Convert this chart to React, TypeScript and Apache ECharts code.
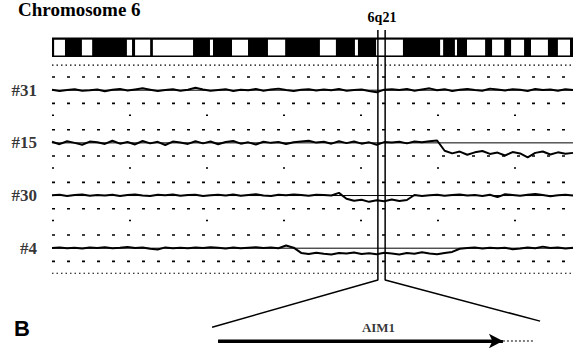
import React, { useEffect, useRef } from "react";
import * as echarts from "echarts";

// Chromosome 6 positions (Mb) of the array probes
const POS = [
  0, 2.5, 5, 7.5, 10, 12.5, 15, 17.5, 20, 22.5,
  25, 27.5, 30, 32.5, 35, 37.5, 40, 42.5, 45, 47.5,
  50, 52.5, 55, 57.5, 60, 62.5, 65, 67.5, 70, 72.5,
  75, 77.5, 80, 82.5, 85, 87.5, 90, 92.5, 95, 97.5,
  100, 102.5, 105, 107.5, 110, 112.5, 115, 117.5, 120, 122.5,
  125, 127.5, 130, 132.5, 135, 137.5, 140, 142.5, 145, 147.5,
  150, 152.5, 155, 157.5, 160, 162.5, 165, 167.5, 170, 172.5,
];

const TRACK_NAMES = ["#31", "#15", "#30", "#4"];

// log2 ratios per sample
const T31 = [
  0.02, -0.03, 0.01, 0.04, -0.02, 0.0, 0.03, -0.04, 0.02, 0.05,
  -0.01, 0.03, 0.07, 0.02, -0.03, 0.01, 0.04, -0.02, 0.02, 0.09,
  0.03, -0.02, 0.01, 0.04, -0.03, 0.02, 0.0, 0.05, -0.02, 0.03,
  0.06, 0.01, -0.03, 0.02, 0.04, -0.01, 0.03, 0.0, 0.05, -0.02,
  0.01, 0.03, -0.03, -0.08, 0.02, 0.04, 0.01, 0.05, -0.02, 0.03,
  0.07, 0.0, 0.04, -0.03, 0.02, 0.05, 0.01, -0.02, 0.06, 0.03,
  -0.01, 0.04, 0.02, -0.03, 0.05, 0.01, 0.03, -0.02, 0.04, 0.01,
];
const T15 = [
  0.04, -0.05, 0.06, 0.0, -0.07, 0.05, 0.02, -0.04, 0.08, -0.03,
  0.03, -0.06, 0.07, -0.02, 0.04, -0.08, 0.05, 0.01, -0.04, 0.06,
  -0.02, 0.05, -0.05, 0.03, 0.07, -0.03, 0.02, -0.06, 0.04, 0.0,
  0.03, -0.04, 0.02, 0.05, 0.08, 0.01, 0.04, -0.03, 0.06, -0.01,
  0.05, -0.03, 0.02, -0.07, 0.03, 0.01, 0.04, -0.02, 0.05, 0.02,
  0.06, 0.09, -0.3, -0.4, -0.33, -0.45, -0.36, -0.31, -0.42, -0.37,
  -0.48, -0.35, -0.4, -0.55, -0.38, -0.33, -0.44, -0.36, -0.41, -0.38,
];
const T30 = [
  0.01, 0.03, -0.02, 0.02, 0.04, -0.01, 0.02, 0.0, 0.03, -0.02,
  0.02, 0.04, 0.0, -0.02, 0.03, 0.01, 0.04, -0.01, 0.02, 0.03,
  -0.02, 0.01, 0.03, 0.0, 0.04, -0.01, 0.02, 0.05, 0.0, -0.02,
  0.03, 0.01, 0.04, 0.02, -0.01, 0.03, 0.02, 0.0, 0.1, -0.12,
  -0.2, -0.16, -0.24, -0.18, -0.22, -0.15, -0.21, -0.17, 0.02, -0.02,
  0.01, 0.03, -0.01, 0.02, 0.04, 0.0, 0.02, -0.02, 0.03, -0.06,
  0.05, 0.02, -0.01, 0.03, 0.06, 0.02, -0.03, 0.01, 0.03, 0.0,
];
const T4 = [
  0.01, 0.03, 0.0, 0.02, -0.01, 0.03, 0.01, 0.04, 0.0, 0.02,
  0.05, 0.01, 0.03, -0.02, -0.05, 0.03, 0.0, 0.02, 0.0, 0.03,
  0.01, 0.04, 0.02, -0.01, 0.03, 0.0, 0.02, 0.04, 0.01, 0.03,
  0.0, 0.1, 0.02, -0.18, -0.22, -0.17, -0.21, -0.24, -0.18, -0.2,
  -0.16, -0.22, -0.19, -0.23, -0.17, -0.2, -0.24, -0.18, -0.21, -0.15,
  -0.2, -0.23, -0.18, -0.14, -0.02, 0.01, 0.03, -0.01, 0.02, 0.0,
  0.02, -0.04, -0.01, 0.03, 0.0, 0.06, 0.01, 0.03, -0.01, 0.02,
];
const TRACKS = [T31, T15, T30, T4];

// dotted guide levels (log2)
const GUIDE_LEVELS = [0.5, -0.5];
const OUTER_LEVEL = 0.95;

// ideogram
const CHROM_LENGTH = 172.5;
const LIGHT_BANDS = [
  [0.7, 4.3], [9.9, 13.3], [24.8, 26.5], [27.5, 32.5], [33.4, 46.7],
  [52.3, 53.3], [59.6, 64.9], [71.5, 77.2], [88.7, 94.0], [100.3, 101.3],
  [107.3, 116.2], [128.5, 129.5], [133.4, 134.1], [137.4, 143.4], [145.7, 149.7],
  [152.0, 156.3], [158.6, 164.2], [167.5, 171.5],
];

const LOCUS_NAME = "6q21";
const LOCUS = [107.9, 110.3];
const ZOOM_ENDS = [53.0, 161.6];
const GENE_NAME = "AIM1";
const GENE_SPAN = [55.0, 149.3];
const GENE_TAIL = 159.9;

// vertical layout in track units (1 unit per sample row)
const SCALE = 0.5;
const IDEO_TOP = 0;
const IDEO_BOTTOM = 0.37;
const LIGHT_TOP = 0.04;
const LIGHT_BOTTOM = 0.34;
const LOCUS_TOP = -0.143;
const LOCUS_BOTTOM = 4.604;
const ZOOM_LEFT_V = 5.5;
const ZOOM_RIGHT_V = 5.385;
const ARROW_V = 5.762;
const GENE_LABEL_V = 5.505;

const SERIF = "Liberation Serif";

const rowV = (track: number, log2: number) => track - log2 * SCALE;

function buildOption() {
  const series: any[] = [];
  const black = "#000";

  // ideogram
  const ideoData: any[] = [[0, CHROM_LENGTH, 1]].concat(
    LIGHT_BANDS.map((b) => [b[0], b[1], 0])
  );
  series.push({
    type: "custom",
    data: ideoData,
    encode: { x: [0, 1] },
    z: 1,
    silent: true,
    renderItem: (params: any, api: any) => {
      const dark = api.value(2) === 1;
      const p0 = api.coord([api.value(0), dark ? IDEO_TOP : LIGHT_TOP]);
      const p1 = api.coord([api.value(1), dark ? IDEO_BOTTOM : LIGHT_BOTTOM]);
      return {
        type: "rect",
        shape: { x: p0[0], y: p0[1], width: p1[0] - p0[0], height: p1[1] - p0[1] },
        style: { fill: dark ? black : "#fff" },
      };
    },
  });

  TRACKS.forEach((vals, i) => {
    const t = i + 1;
    GUIDE_LEVELS.forEach((lv) => {
      series.push({
        type: "line",
        data: [[0, rowV(t, lv)], [CHROM_LENGTH, rowV(t, lv)]],
        symbol: "none",
        silent: true,
        lineStyle: { color: black, width: 1.6, type: [3, 12] },
        z: 2,
      });
    });
    const lowerDense = i === TRACKS.length - 1;
    series.push({
      type: "line",
      data: [[0, rowV(t, -OUTER_LEVEL)], [CHROM_LENGTH, rowV(t, -OUTER_LEVEL)]],
      symbol: "none",
      silent: true,
      lineStyle: lowerDense
        ? { color: black, width: 1.1, type: [1.5, 3] }
        : { color: black, width: 1.5, type: [2, 75] },
      z: 2,
    });
    if (i === 0) {
      series.push({
        type: "line",
        data: [[0, rowV(t, OUTER_LEVEL)], [CHROM_LENGTH, rowV(t, OUTER_LEVEL)]],
        symbol: "none",
        silent: true,
        lineStyle: { color: black, width: 1.2, type: [1.5, 3] },
        z: 2,
      });
    }
    series.push({
      type: "line",
      data: [[0, rowV(t, 0)], [CHROM_LENGTH, rowV(t, 0)]],
      symbol: "none",
      silent: true,
      lineStyle: { color: black, width: 1 },
      z: 3,
    });
    series.push({
      type: "line",
      data: POS.map((x, j) => [x, rowV(t, vals[j])]),
      symbol: "none",
      silent: true,
      lineStyle: { color: black, width: 2 },
      z: 4,
    });
  });

  series.push({
    type: "scatter",
    clip: false,
    symbolSize: 0,
    silent: true,
    data: TRACK_NAMES.map((n, i) => ({ value: [0, i + 1], name: n })),
    label: {
      show: true,
      position: "left",
      distance: 15,
      formatter: "{b}",
      color: black,
      fontFamily: SERIF,
      fontWeight: "bold",
      fontSize: 17,
    },
    z: 6,
  });

  LOCUS.forEach((x, k) => {
    series.push({
      type: "line",
      data: [
        [x, LOCUS_TOP],
        [x, LOCUS_BOTTOM],
        [ZOOM_ENDS[k], k === 0 ? ZOOM_LEFT_V : ZOOM_RIGHT_V],
      ],
      symbol: "none",
      silent: true,
      lineStyle: { color: black, width: 1.5 },
      z: 7,
    });
  });

  series.push({
    type: "line",
    data: [[GENE_SPAN[0], ARROW_V], [GENE_SPAN[1] - 2, ARROW_V]],
    symbol: "none",
    silent: true,
    lineStyle: { color: black, width: 3 },
    z: 7,
    markLine: {
      silent: true,
      symbol: ["none", "arrow"],
      symbolSize: [11, 14],
      label: { show: false },
      lineStyle: { color: black, width: 3, type: "solid" },
      data: [[{ coord: [GENE_SPAN[0], ARROW_V] }, { coord: [GENE_SPAN[1], ARROW_V] }]],
    },
  });
  series.push({
    type: "line",
    data: [[GENE_SPAN[1], ARROW_V], [GENE_TAIL, ARROW_V]],
    symbol: "none",
    silent: true,
    lineStyle: { color: black, width: 1, type: [2, 2] },
    z: 7,
  });
  series.push({
    type: "scatter",
    symbolSize: 0,
    silent: true,
    data: [{ value: [(LOCUS[0] + LOCUS[1]) / 2 - 1, GENE_LABEL_V], name: GENE_NAME }],
    label: {
      show: true,
      position: "inside",
      formatter: "{b}",
      color: black,
      fontFamily: SERIF,
      fontWeight: "bold",
      fontSize: 13,
    },
    z: 7,
  });

  return {
    animation: false,
    backgroundColor: "#fff",
    grid: { left: 52, right: 2, top: 27, height: 316, containLabel: false },
    xAxis: { type: "value", min: 0, max: CHROM_LENGTH, show: false },
    yAxis: { type: "value", inverse: true, min: -0.2, max: 5.8, show: false },
    graphic: [
      {
        type: "text",
        x: 18,
        y: 0,
        style: {
          text: "Chromosome 6",
          fontFamily: SERIF,
          fontWeight: "bold",
          fontSize: 19,
          fill: black,
          verticalAlign: "top",
        },
      },
      {
        type: "text",
        x: 382,
        y: 17,
        style: {
          text: LOCUS_NAME,
          fontFamily: SERIF,
          fontWeight: "bold",
          fontSize: 14,
          fill: black,
          align: "center",
          verticalAlign: "middle",
        },
      },
      {
        type: "text",
        x: 22,
        y: 328,
        style: {
          text: "B",
          fontFamily: "Liberation Sans",
          fontWeight: "bold",
          fontSize: 22,
          fill: black,
          align: "center",
          verticalAlign: "middle",
        },
      },
    ],
    series,
  };
}

export default function App() {
  const ref = useRef<HTMLDivElement>(null);
  useEffect(() => {
    if (!ref.current) return;
    const chart = echarts.init(ref.current, undefined, { renderer: "svg" });
    chart.setOption(buildOption() as any);
    return () => chart.dispose();
  }, []);
  return (
    <div
      ref={ref}
      style={{ position: "fixed", left: 0, top: 0, width: 575, height: 348, background: "#fff" }}
    />
  );
}
